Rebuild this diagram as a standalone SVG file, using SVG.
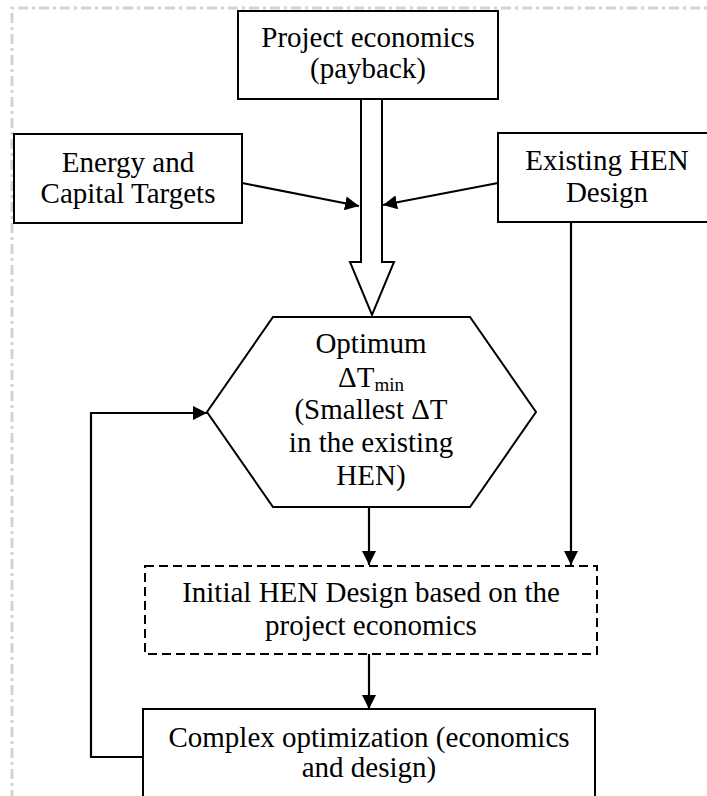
<svg xmlns="http://www.w3.org/2000/svg" width="707" height="796" viewBox="0 0 707 796">
  <style>
    .box { fill: #ffffff; stroke: #000000; stroke-width: 2; }
    .dashed { fill: #ffffff; stroke: #000000; stroke-width: 2; stroke-dasharray: 9 5; }
    .lbl { font-family: "Liberation Serif", "Times New Roman", serif; font-size: 29px; fill: #000000; text-anchor: middle; }
    .sub { font-size: 19px; }
    .conn { fill: none; stroke: #000000; stroke-width: 2.2; }
    .frame { fill: none; stroke: #d3d3d3; stroke-width: 3; stroke-dasharray: 10 4 3 4; }
  </style>
  <defs>
    <marker id="arrow" viewBox="0 0 14 14" refX="14" refY="7" markerWidth="14" markerHeight="14" markerUnits="userSpaceOnUse" orient="auto">
      <path d="M0,0 L14,7 L0,14 Z" fill="#000000"/>
    </marker>
  </defs>

  <rect width="707" height="796" fill="#ffffff"/>

  <!-- page frame -->
  <path class="frame" d="M12,800 L12,8 L712,8"/>

  <!-- connectors -->
  <g id="connectors">
    <!-- wide hollow arrow from project economics -->
    <path class="box" d="M361,99 L382,99 L382,262 L394,262 L372,315 L350,262 L361,262 Z"/>
    <line class="conn" x1="242" y1="183" x2="359" y2="206" marker-end="url(#arrow)"/>
    <line class="conn" x1="498" y1="183" x2="383" y2="205" marker-end="url(#arrow)"/>
    <line class="conn" x1="571" y1="222" x2="571" y2="565" marker-end="url(#arrow)"/>
    <line class="conn" x1="369" y1="507" x2="369" y2="565" marker-end="url(#arrow)"/>
    <line class="conn" x1="369" y1="654" x2="369" y2="709" marker-end="url(#arrow)"/>
    <polyline class="conn" points="143,757 91,757 91,413 207,413" marker-end="url(#arrow)"/>
  </g>

  <g id="project-economics">
    <rect class="box" x="238" y="11" width="260" height="88"/>
    <text class="lbl" x="368" y="47">Project economics</text>
    <text class="lbl" x="368" y="78">(payback)</text>
  </g>

  <g id="energy-capital-targets">
    <rect class="box" x="14" y="134" width="228" height="89"/>
    <text class="lbl" x="128" y="172">Energy and</text>
    <text class="lbl" x="128" y="203">Capital Targets</text>
  </g>

  <g id="existing-hen-design">
    <rect class="box" x="498" y="133" width="218" height="89"/>
    <text class="lbl" x="607" y="170">Existing HEN</text>
    <text class="lbl" x="607" y="202">Design</text>
  </g>

  <g id="optimum-dtmin">
    <polygon class="box" points="273,317 470,317 536,412 470,507 273,507 207,412"/>
    <text class="lbl" x="371" y="353">Optimum</text>
    <text class="lbl" x="371" y="387">ΔT<tspan class="sub" dy="4">min</tspan></text>
    <text class="lbl" x="371" y="419">(Smallest ΔT</text>
    <text class="lbl" x="371" y="452">in the existing</text>
    <text class="lbl" x="371" y="485">HEN)</text>
  </g>

  <g id="initial-hen-design">
    <rect class="dashed" x="145" y="566" width="452" height="88"/>
    <text class="lbl" x="371" y="602">Initial HEN Design based on the</text>
    <text class="lbl" x="371" y="635">project economics</text>
  </g>

  <g id="complex-optimization">
    <rect class="box" x="143" y="709" width="452" height="100"/>
    <text class="lbl" x="369" y="747">Complex optimization (economics</text>
    <text class="lbl" x="369" y="777">and design)</text>
  </g>
</svg>
